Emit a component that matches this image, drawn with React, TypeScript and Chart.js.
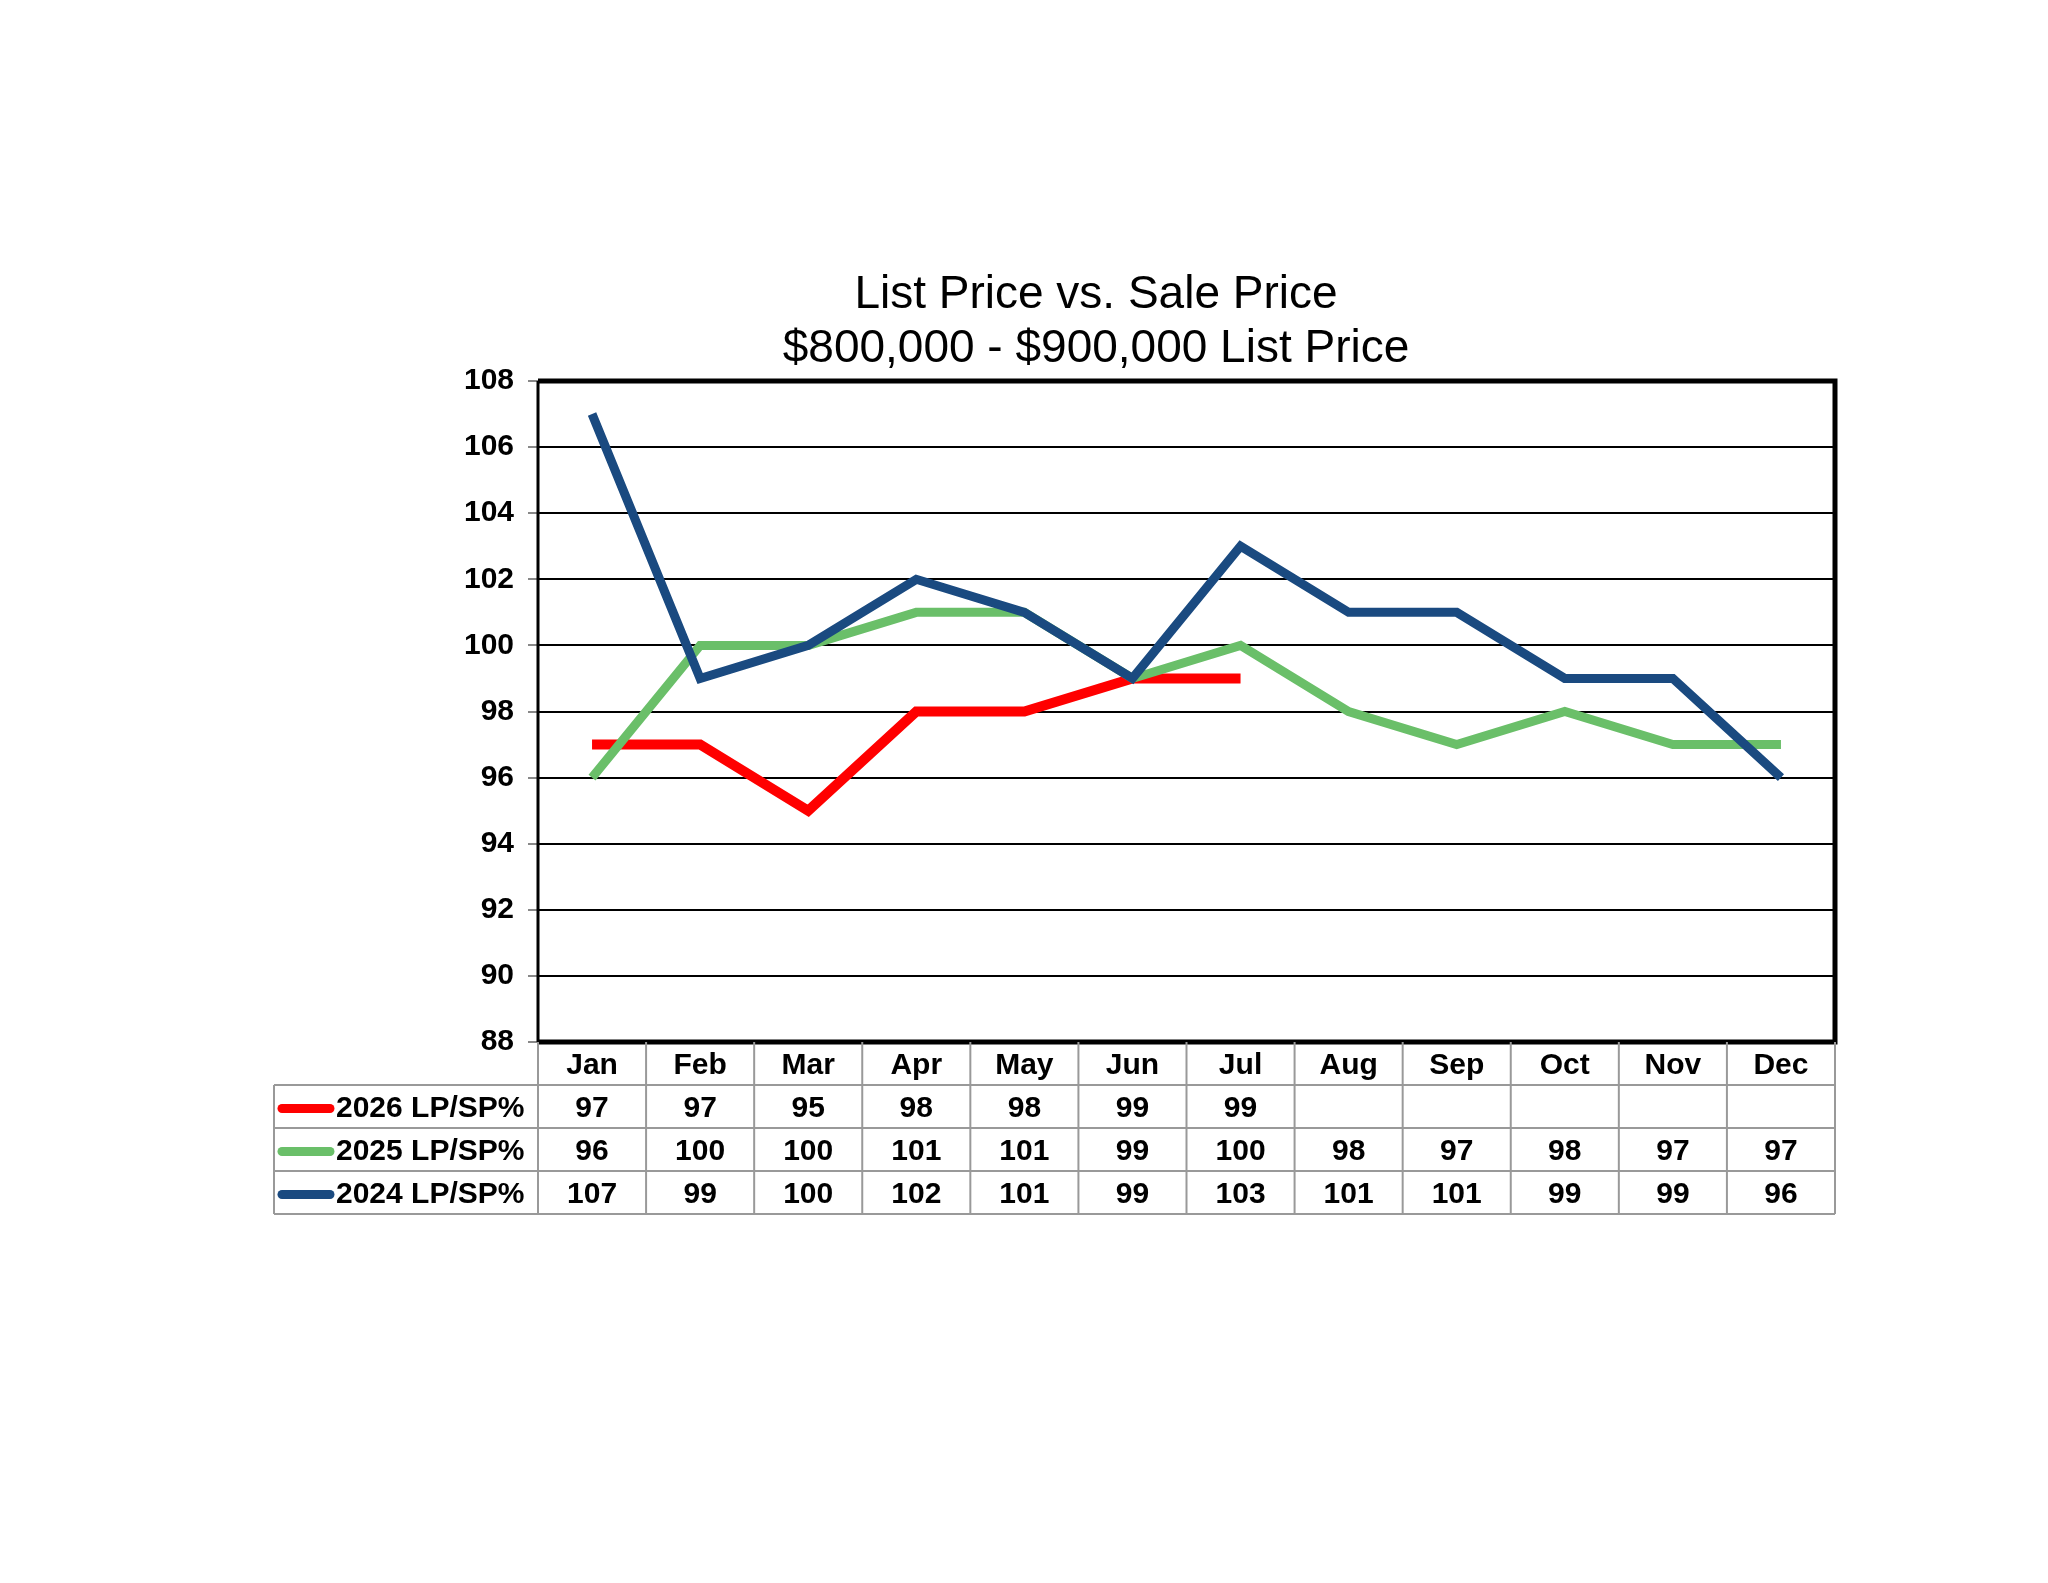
import React, { useEffect, useRef } from "react";
import { Chart, registerables } from "chart.js";
Chart.register(...registerables);

const months = ["Jan","Feb","Mar","Apr","May","Jun","Jul","Aug","Sep","Oct","Nov","Dec"];
const s2026 = [97,97,95,98,98,99,99,null,null,null,null,null];
const s2025 = [96,100,100,101,101,99,100,98,97,98,97,97];
const s2024 = [107,99,100,102,101,99,103,101,101,99,99,96];
const names = ["2026 LP/SP%","2025 LP/SP%","2024 LP/SP%"];
const colors = ["#ff0000","#6abf69","#1a4a80"];
const FONT = "Arial, 'Liberation Sans', sans-serif";

const tablePlugin = {
  id: "table",
  afterDraw(chart: any) {
    const ctx = chart.ctx;
    const a = chart.chartArea;
    const xs = chart.scales.x;
    const colW = (a.right - a.left) / months.length;
    const rowH = 43;
    const tableLeft = 274;
    ctx.save();
    ctx.strokeStyle = "#000";
    ctx.lineWidth = 5;
    ctx.beginPath();
    ctx.moveTo(a.left, a.top); ctx.lineTo(a.right, a.top); ctx.lineTo(a.right, a.bottom); ctx.lineTo(a.left, a.bottom);
    ctx.stroke();
    ctx.lineWidth = 3;
    ctx.beginPath(); ctx.moveTo(a.left, a.top); ctx.lineTo(a.left, a.bottom); ctx.stroke();
    ctx.strokeStyle = "#999";
    ctx.lineWidth = 2;
    const top = a.bottom;
    const bottom = top + rowH * 4;
    for (let i = 0; i <= months.length; i++) {
      const x = a.left + i * colW;
      ctx.beginPath(); ctx.moveTo(x, top); ctx.lineTo(x, bottom); ctx.stroke();
    }
    ctx.beginPath(); ctx.moveTo(tableLeft, top + rowH); ctx.lineTo(tableLeft, bottom); ctx.stroke();
    for (let r = 1; r <= 4; r++) {
      const y = top + r * rowH;
      ctx.beginPath(); ctx.moveTo(tableLeft, y); ctx.lineTo(a.right, y); ctx.stroke();
    }
    ctx.fillStyle = "#000";
    ctx.font = `bold 30px ${FONT}`;
    ctx.textAlign = "center";
    ctx.textBaseline = "middle";
    months.forEach((m, i) => ctx.fillText(m, xs.getPixelForValue(i), top + rowH / 2 + 2));
    const series = [s2026, s2025, s2024];
    series.forEach((s, r) => {
      const y = top + rowH * (r + 1) + rowH / 2 + 2;
      s.forEach((v, i) => { if (v != null) ctx.fillText(String(v), xs.getPixelForValue(i), y); });
      ctx.strokeStyle = colors[r];
      ctx.lineWidth = 9;
      ctx.lineCap = "round";
      ctx.beginPath(); ctx.moveTo(tableLeft + 8, y); ctx.lineTo(tableLeft + 56, y); ctx.stroke();
      ctx.textAlign = "left";
      ctx.fillText(names[r], tableLeft + 62, y);
      ctx.textAlign = "center";
    });
    ctx.restore();
  },
};

export default function App() {
  const ref = useRef<HTMLCanvasElement>(null);
  useEffect(() => {
    const chart = new Chart(ref.current!, {
      type: "line",
      data: {
        labels: months,
        datasets: [
          { label: names[2], data: s2024, borderColor: colors[2], borderWidth: 9, pointRadius: 0, tension: 0 },
          { label: names[1], data: s2025, borderColor: colors[1], borderWidth: 9, pointRadius: 0, tension: 0 },
          { label: names[0], data: s2026, borderColor: colors[0], borderWidth: 10, pointRadius: 0, tension: 0 },
        ],
      },
      options: {
        animation: false,
        responsive: false,
        layout: { padding: { left: 438, right: 213, top: 381, bottom: 533 } },
        plugins: {
          legend: { display: false },
          tooltip: { enabled: false },
          title: { display: false },
        },
        scales: {
          x: { offset: true, grid: { display: false }, ticks: { display: false }, border: { display: false } },
          y: {
            min: 88, max: 108,
            afterFit: (s: any) => { s.width = 100; },
            ticks: { stepSize: 2, color: "#000", font: { family: FONT, size: 30, weight: "bold" }, padding: 14 },
            grid: { color: "#000", lineWidth: 2, tickColor: "#888", tickLength: 10 },
            border: { display: false },
          },
        },
      },
      plugins: [
        tablePlugin,
        {
          id: "titles",
          afterDraw(c: any) {
            const ctx = c.ctx;
            ctx.save();
            ctx.fillStyle = "#000";
            ctx.font = `46px ${FONT}`;
            ctx.textAlign = "center";
            ctx.textBaseline = "middle";
            ctx.fillText("List Price vs. Sale Price", 1096, 295);
            ctx.fillText("$800,000 - $900,000 List Price", 1096, 349);
            ctx.restore();
          },
        },
      ],
    });
    return () => chart.destroy();
  }, []);
  return (
    <div style={{ position: "fixed", left: 0, top: 0, width: 2048, height: 1583, background: "#fff" }}>
      <canvas ref={ref} width={2048} height={1583} style={{ width: 2048, height: 1583 }} />
    </div>
  );
}
